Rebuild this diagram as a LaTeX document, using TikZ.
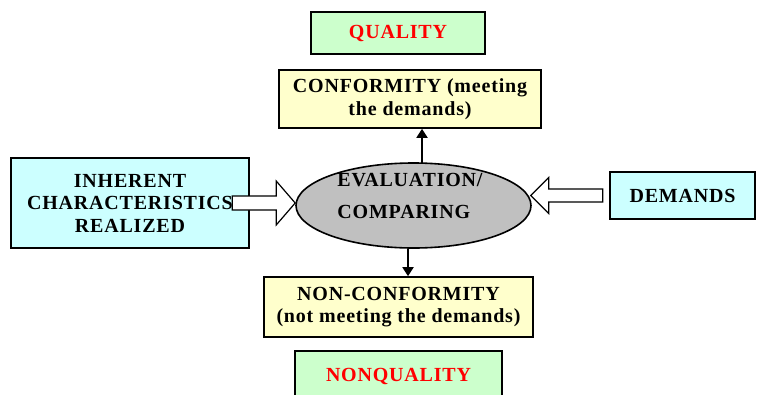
\documentclass[tikz,border=0pt]{standalone}
\usepackage{fontspec}
\setmainfont{Liberation Serif}[LetterSpace=4]
\usetikzlibrary{shapes.geometric,calc,arrows.meta}
\definecolor{qgreen}{HTML}{CCFFCC}
\definecolor{qyellow}{HTML}{FFFFCC}
\definecolor{qcyan}{HTML}{CCFFFF}
\definecolor{qgray}{HTML}{C0C0C0}
\tikzset{
  box/.style={draw=black, line width=1.6pt, rectangle, inner sep=0pt, align=center,
    font=\fontsize{20}{22.5}\selectfont\bfseries},
  conn/.style={line width=1.8pt, -{Triangle[length=9pt,width=11pt]}},
  hollow/.style={draw=black, line width=1.2pt, fill=white, line join=miter}
}
\begin{document}
\begin{tikzpicture}[x=1pt,y=-1pt]
\useasboundingbox (0,0) rectangle (757,394);
\clip (0,0) rectangle (757,394);
\fill[white] (0,0) rectangle (757,394);
\node[box, fill=qgreen, text=red, minimum width=174pt, minimum height=42pt] (q) at (398,33) {QUALITY};
\node[box, fill=qyellow, minimum width=262pt, minimum height=58pt] (conf) at (410,99) {CONFORMITY (meeting\\the demands)};
\node[box, fill=qcyan, minimum width=238pt, minimum height=90pt] (inh) at (130,203) {INHERENT\\CHARACTERISTICS\\REALIZED};
\node[draw=black, line width=1.6pt, ellipse, fill=qgray, minimum width=235pt, minimum height=85pt, inner sep=0pt] (ev) at (413.5,205.5) {};
\node[align=left, inner sep=0pt, font=\fontsize{20}{32}\selectfont\bfseries] (evt) at (410,196) {EVALUATION/\\COMPARING};
\node[box, fill=qcyan, minimum width=145pt, minimum height=47pt] (dem) at (682.5,195.5) {DEMANDS};
\node[box, fill=qyellow, minimum width=269pt, minimum height=60pt] (nc) at (398.5,307) {NON-CONFORMITY\\(not meeting the demands)};
\node[box, fill=qgreen, text=red, minimum width=207pt, minimum height=56pt, text depth=0pt] (nq) at (398.5,379) {\raisebox{8pt}{NONQUALITY}};
% hollow arrows
\coordinate (lt) at (ev.west |- inh.center);
\draw[hollow] ($(lt)+(-63,7)$) -- ($(lt)+(-19,7)$) -- ($(lt)+(-19,22)$) -- (lt)
  -- ($(lt)+(-19,-22)$) -- ($(lt)+(-19,-7)$) -- ($(lt)+(-63,-7)$) -- cycle;
\coordinate (rt) at ($(ev.east |- dem.center)+(-1,0)$);
\draw[hollow] ($(rt)+(72,6.5)$) -- ($(rt)+(18,6.5)$) -- ($(rt)+(18,18)$) -- (rt)
  -- ($(rt)+(18,-18)$) -- ($(rt)+(18,-6.5)$) -- ($(rt)+(72,-6.5)$) -- cycle;
% vertical connectors
\coordinate (upx) at (422,0);
\coordinate (dnx) at (408,0);
\draw[conn] ($(ev.north -| upx)+(0,1)$) -- (conf.south -| upx);
\draw[conn] (ev.south -| dnx) -- (nc.north -| dnx);
\end{tikzpicture}
\end{document}
